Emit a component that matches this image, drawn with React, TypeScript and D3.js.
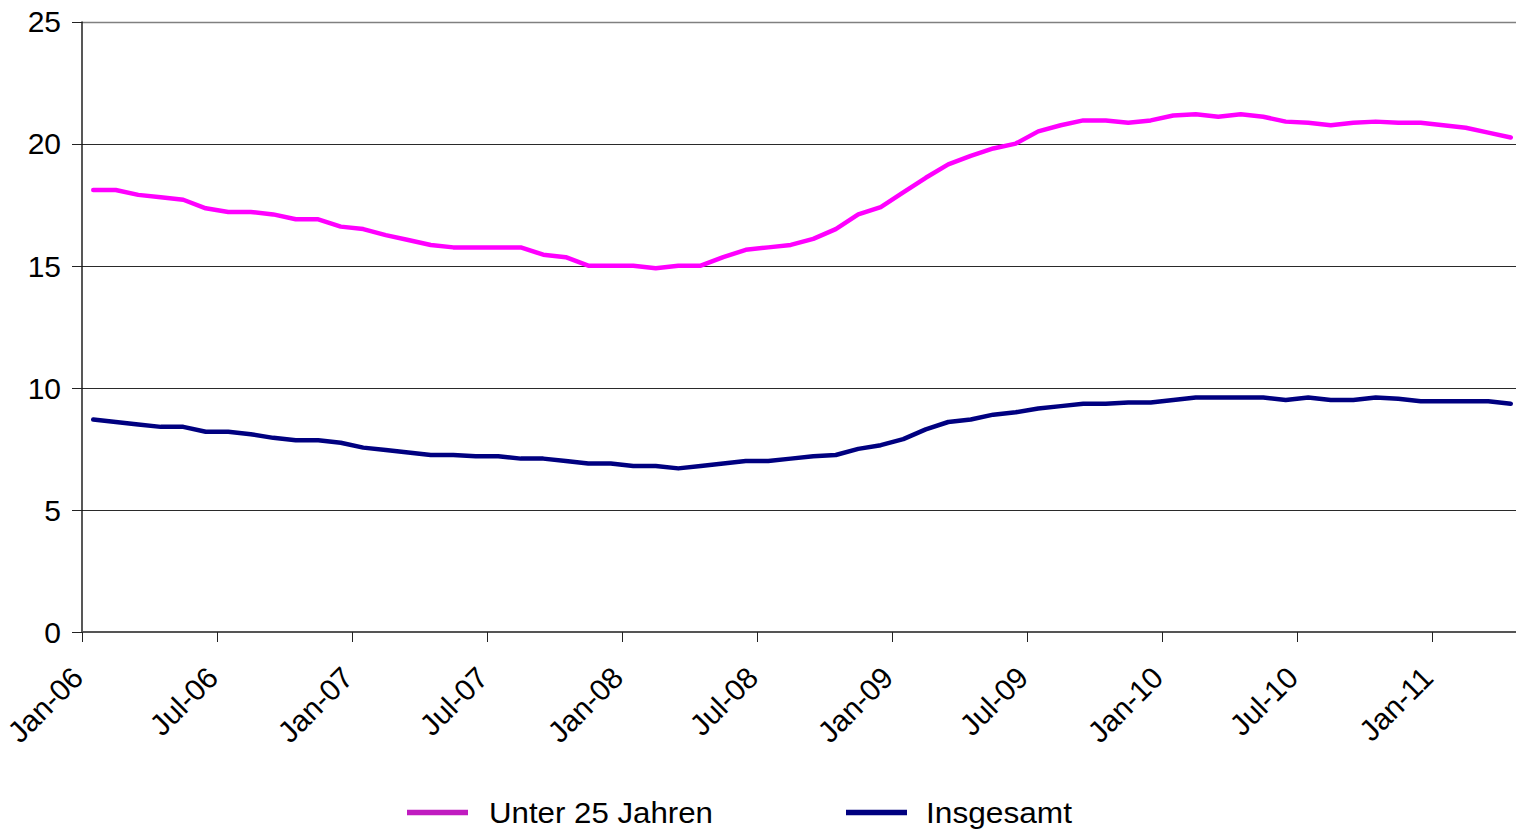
import React from 'react';
import * as d3 from 'd3';

// monthly rates, Jan-06 .. Apr-11
const monthNames = ['Jan', 'Feb', 'Mar', 'Apr', 'May', 'Jun', 'Jul', 'Aug', 'Sep', 'Oct', 'Nov', 'Dec'];
const years = ['06', '07', '08', '09', '10', '11'];
const months: string[] = [];
years.forEach(y => monthNames.forEach(m => months.push(`${m}-${y}`)));
const categories = months.slice(0, 64);

const tickLabels = ['Jan-06', 'Jul-06', 'Jan-07', 'Jul-07', 'Jan-08', 'Jul-08', 'Jan-09', 'Jul-09', 'Jan-10', 'Jul-10', 'Jan-11'];
const yTicks = [0, 5, 10, 15, 20, 25];

const unter25 = [
  18.1, 18.1, 17.9, 17.8, 17.7, 17.35, 17.2, 17.2, 17.1, 16.9, 16.9, 16.6,
  16.5, 16.25, 16.05, 15.85, 15.75, 15.75, 15.75, 15.75, 15.45, 15.35, 15.0, 15.0,
  15.0, 14.9, 15.0, 15.0, 15.35, 15.65, 15.75, 15.85, 16.1, 16.5, 17.1, 17.4,
  18.0, 18.6, 19.15, 19.5, 19.8, 20.0, 20.5, 20.75, 20.95, 20.95, 20.85, 20.95,
  21.15, 21.2, 21.1, 21.2, 21.1, 20.9, 20.85, 20.75, 20.85, 20.9, 20.85, 20.85,
  20.75, 20.65, 20.45, 20.25,
];

const insgesamt = [
  8.7, 8.6, 8.5, 8.4, 8.4, 8.2, 8.2, 8.1, 7.95, 7.85, 7.85, 7.75,
  7.55, 7.45, 7.35, 7.25, 7.25, 7.2, 7.2, 7.1, 7.1, 7.0, 6.9, 6.9,
  6.8, 6.8, 6.7, 6.8, 6.9, 7.0, 7.0, 7.1, 7.2, 7.25, 7.5, 7.65,
  7.9, 8.3, 8.6, 8.7, 8.9, 9.0, 9.15, 9.25, 9.35, 9.35, 9.4, 9.4,
  9.5, 9.6, 9.6, 9.6, 9.6, 9.5, 9.6, 9.5, 9.5, 9.6, 9.55, 9.45,
  9.45, 9.45, 9.45, 9.35,
];

const series = [
  { name: 'Unter 25 Jahren', values: unter25, color: '#ff00ff', legendColor: '#c01cc0' },
  { name: 'Insgesamt', values: insgesamt, color: '#000080', legendColor: '#000080' },
];

const W = 1516;
const H = 832;
const font = '"Liberation Sans", Arial, sans-serif';

export default function App() {
  const left = 82;
  const x = d3.scaleBand<string>().domain(categories).range([left, left + 64 * 22.5]).padding(0);
  const y = d3.scaleLinear().domain([0, 25]).range([632, 21.5]);
  const cx = (c: string) => (x(c) as number) + x.bandwidth() / 2;
  const crisp = (v: number) => Math.round(v) + 0.5;

  const line = d3.line<number>()
    .x((_, i) => cx(categories[i]))
    .y(d => y(d));

  return (
    <svg width={W} height={H} style={{ position: 'absolute', left: 0, top: 0, background: '#fff' }} fontFamily={font}>
      {/* gridlines */}
      {yTicks.filter(t => t > 0).map(t => (
        <line key={t} x1={left} x2={W} y1={crisp(y(t))} y2={crisp(y(t))}
          stroke={t === 25 ? '#808080' : '#2a2a2a'} strokeWidth={t === 25 ? 1.6 : 1} />
      ))}
      {/* y axis */}
      <line x1={left} x2={left} y1={y(25)} y2={y(0)} stroke="#111" strokeWidth={1.4} />
      {yTicks.map(t => (
        <g key={t}>
          <line x1={left - 10} x2={left} y1={crisp(y(t))} y2={crisp(y(t))} stroke="#222" strokeWidth={1} />
          <text x={61} y={y(t)} dy="0.36em" textAnchor="end" fontSize={30} fill="#000">{t}</text>
        </g>
      ))}
      {/* x axis */}
      <line x1={left} x2={W} y1={y(0)} y2={y(0)} stroke="#555" strokeWidth={2} />
      {tickLabels.map(lbl => {
        const tx = crisp(x(lbl) as number);
        return (
          <g key={lbl}>
            <line x1={tx} x2={tx} y1={y(0)} y2={y(0) + 10} stroke="#222" strokeWidth={1} />
            <text transform={`translate(${tx - 5},${y(0) + 40}) rotate(-45)`} textAnchor="end"
              dy="0.36em" fontSize={30} fill="#000">{lbl}</text>
          </g>
        );
      })}
      {/* series */}
      {series.map(s => (
        <path key={s.name} d={line(s.values) || ''} fill="none" stroke={s.color}
          strokeWidth={4.5} strokeLinejoin="round" strokeLinecap="round" />
      ))}
      {/* legend */}
      {series.map((s, i) => {
        const lx = 407 + i * 439;
        return (
          <g key={s.name}>
            <line x1={lx} x2={lx + 61} y1={812.5} y2={812.5} stroke={s.legendColor} strokeWidth={5.5} />
            <text x={lx + 82 - i * 2} y={823} fontSize={29} fill="#000"
              textLength={i === 0 ? 224 : 146} lengthAdjust="spacingAndGlyphs">{s.name}</text>
          </g>
        );
      })}
    </svg>
  );
}
